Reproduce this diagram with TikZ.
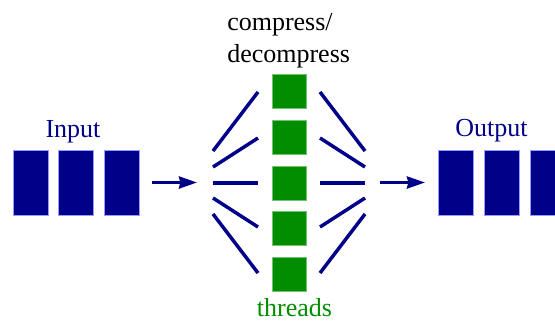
\documentclass[tikz,border=0pt]{standalone}
\usepackage{fontspec}
\setmainfont{Liberation Serif}
\usetikzlibrary{arrows.meta}

\definecolor{navy}{RGB}{0,0,136}
\definecolor{thrgreen}{RGB}{0,142,0}

\begin{document}
\begin{tikzpicture}[x=0.75pt, y=-0.75pt,
            block/.style = {draw=blue!40, line width=0.5pt, fill=navy,
                           minimum width=26pt, minimum height=48.75pt, inner sep=0pt},
            thread/.style = {draw=thrgreen!55, line width=0.5pt, fill=thrgreen,
                            minimum size=25.5pt, inner sep=0pt},
            lbl/.style = {font=\fontsize{19.5}{24}\selectfont, inner sep=0pt},
            spoke/.style = {navy, line width=2.6pt},
            flow/.style = {navy, line width=2.4pt,
                          -{Stealth[length=13.5pt, width=9pt, inset=1pt]}}
        ]
            \useasboundingbox (0,0) rectangle (555,322);

            % buffers in and out
            \foreach \x [count=\i] in {30.5,76,121.5}
                \node[block] (in\i) at (\x,182.5) {};
            \foreach \x [count=\i] in {456,502,547.5}
                \node[block] (out\i) at (\x,182.5) {};

            % worker threads
            \foreach \y [count=\i] in {91,137,183,228,274}
                \node[thread] (t\i) at (289,\y) {};

            % fan out / fan in
            \foreach \a/\b [count=\i] in {151/92,167/138,183/183,198/227,214/273} {
                \coordinate (l\i) at (213,\a);
                \coordinate (m\i) at (258,\b);
                \coordinate (n\i) at (320,\b);
                \coordinate (r\i) at (365,\a);
                \draw[spoke] (l\i) -- (m\i);
                \draw[spoke] (n\i) -- (r\i);
            }

            \coordinate (a1) at (152,182.5);
            \coordinate (a2) at (197,182.5);
            \coordinate (b1) at (380,182.5);
            \coordinate (b2) at (425,182.5);
            \draw[flow] (a1) -- (a2);
            \draw[flow] (b1) -- (b2);

            \node[lbl, navy, anchor=base] (inlbl) at (73,137) {Input};
            \node[lbl, navy, anchor=base] (outlbl) at (491.5,136) {Output};
            \node[lbl, align=left, anchor=base west] (task) at (227,62)
                {compress/\\decompress};
            \node[lbl, thrgreen, anchor=base] (thrlbl) at (294.5,316.5) {threads};
        \end{tikzpicture}
\end{document}
